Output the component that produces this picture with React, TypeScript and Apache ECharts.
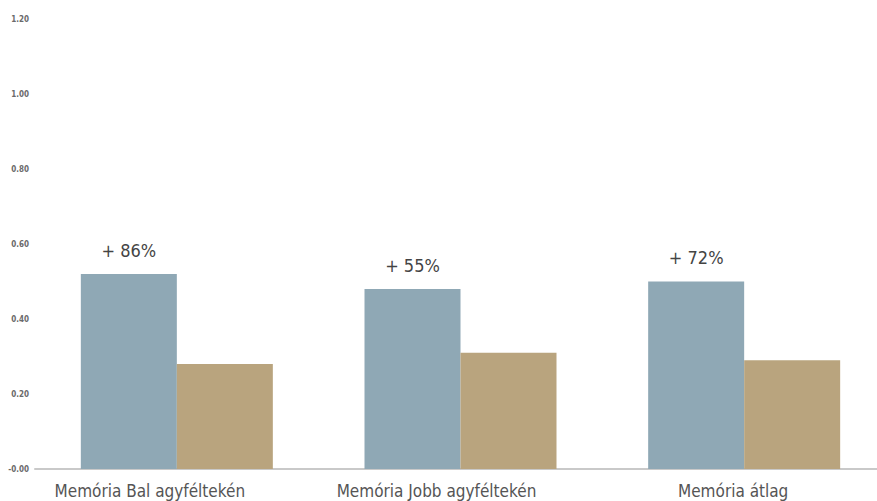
import React, { useEffect, useRef } from "react";
import * as echarts from "echarts";

const categories = ["Memória Bal agyféltekén", "Memória Jobb agyféltekén", "Memória átlag"];
const seriesA = [0.52, 0.48, 0.5];
const seriesB = [0.28, 0.31, 0.29];
const changeLabels = ["+ 86%", "+ 55%", "+ 72%"];
const yTicks = { min: 0, max: 1.2, interval: 0.2 };

const FONT = "'DejaVu Sans Condensed', 'Liberation Sans Narrow', 'Liberation Sans', sans-serif";

export default function App() {
  const ref = useRef<HTMLDivElement>(null);
  useEffect(() => {
    if (!ref.current) return;
    const chart = echarts.init(ref.current, null, { renderer: "svg" });
    const labelShift = [54, 48, 22];
    chart.setOption({
      animation: false,
      grid: {
        left: 35,
        width: 851,
        top: 19,
        bottom: 32,
        containLabel: false,
        outerBoundsMode: "none",
      },
      xAxis: {
        type: "category",
        data: categories,
        axisLine: { show: true, lineStyle: { color: "#c9c9c9", width: 2 } },
        axisTick: { show: false },
        axisLabel: {
          interval: 0,
          margin: 13,
          formatter: (v: string, i: number) => `{r${i}|${v}}`,
          rich: Object.fromEntries(
            labelShift.map((s, i) => [
              `r${i}`,
              { fontFamily: FONT, fontSize: 17, color: "#555", padding: [0, s, 0, 0] },
            ])
          ),
        },
      },
      yAxis: {
        type: "value",
        min: yTicks.min,
        max: yTicks.max,
        interval: yTicks.interval,
        splitLine: { show: false },
        axisLine: { show: false },
        axisTick: { show: false },
        axisLabel: {
          fontFamily: FONT,
          fontSize: 8,
          fontWeight: "bold",
          color: "#6a6a6a",
          margin: 6,
          formatter: (v: number) => (v === 0 ? "-0.00" : v.toFixed(2)),
        },
      },
      series: [
        {
          type: "bar",
          data: seriesA,
          barWidth: 96,
          barGap: "0%",
          itemStyle: { color: "#8fa8b5" },
          label: {
            show: true,
            position: "top",
            distance: 15,
            fontFamily: FONT,
            fontSize: 18,
            color: "#444",
            formatter: (p: any) => changeLabels[p.dataIndex],
          },
        },
        {
          type: "bar",
          data: seriesB,
          barWidth: 96,
          barGap: "0%",
          itemStyle: { color: "#b9a47e" },
        },
      ],
    });
    return () => chart.dispose();
  }, []);
  return <div ref={ref} style={{ width: 877, height: 501, position: "absolute", left: 0, top: 0 }} />;
}
